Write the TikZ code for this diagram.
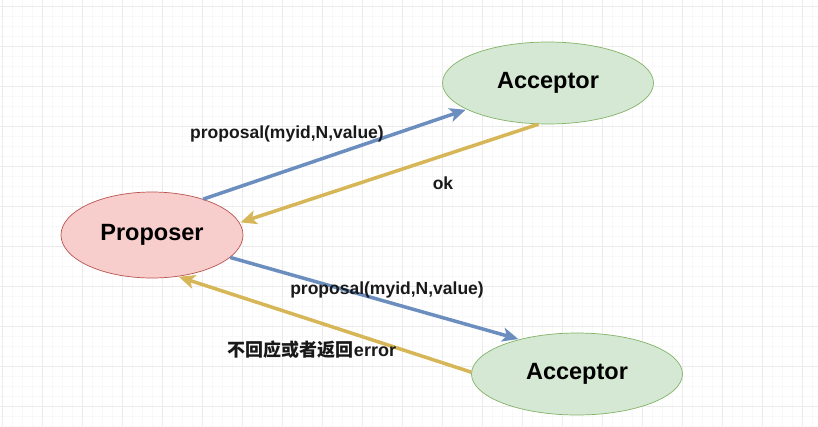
\documentclass[tikz,border=0pt]{standalone}
\usepackage{fontspec}
\setmainfont{Liberation Sans}
\newfontfamily\cjk{Noto Sans CJK SC}
\usetikzlibrary{arrows.meta}
\definecolor{gridminor}{HTML}{F8F8F8}
\definecolor{gridmajor}{HTML}{EBEBEB}
\definecolor{redfill}{HTML}{F8CECC}
\definecolor{redline}{HTML}{B85450}
\definecolor{greenfill}{HTML}{D5E8D4}
\definecolor{greenline}{HTML}{82B366}
\definecolor{bluearrow}{HTML}{6C8EBF}
\definecolor{yellowarrow}{HTML}{D6B656}
\tikzset{
  ell/.style={ellipse, inner sep=0pt, line width=0.7pt, font=\fontsize{23.5}{26}\selectfont\bfseries},
  propnode/.style={ell, draw=redline, fill=redfill, minimum width=182pt, minimum height=86pt},
  accnode/.style={ell, draw=greenline, fill=greenfill, minimum width=211pt, minimum height=82pt},
  conn/.style={line width=3.5pt, -{Stealth[length=16pt,width=14pt,inset=4pt]}, shorten >=1pt},
  bluec/.style={conn, draw=bluearrow, fill=bluearrow},
  yellowc/.style={conn, draw=yellowarrow, fill=yellowarrow},
  lbl/.style={inner sep=0pt, font=\fontsize{17.5}{20}\selectfont\bfseries, text=black!90}
}
\usetikzlibrary{shapes.geometric}
\begin{document}
\begin{tikzpicture}[x=1pt,y=-1pt]
\useasboundingbox (0,0) rectangle (818,426);
\fill[white] (0,0) rectangle (818,426);
\foreach \x in {2,12,...,818} \draw[gridminor, line width=0.6pt] (\x,0) -- (\x,426);
\foreach \y in {6,16,...,426} \draw[gridminor, line width=0.6pt] (0,\y) -- (818,\y);
\foreach \x in {2,42,...,818} \draw[gridmajor, line width=1pt] (\x,0) -- (\x,426);
\foreach \y in {6,46,...,426} \draw[gridmajor, line width=1pt] (0,\y) -- (818,\y);

\node[propnode] (prop) at (152,235) {Proposer};
\node[accnode] (acc1) at (548,83) {Acceptor};
\node[accnode] (acc2) at (577,374) {Acceptor};

\draw[bluec] (prop.35) -- (acc1.198);
\draw[yellowc] (acc1.257) -- (prop.8);
\draw[bluec] (prop.-16) -- (acc2.149);
\draw[yellowc] (acc2.179) -- (prop.302);

\node[lbl] (l1) at (287,134) {proposal(myid,N,value)};
\node[lbl] (l2) at (443,183) {ok};
\node[lbl] (l3) at (387,290) {proposal(myid,N,value)};
\node[lbl, font=\fontsize{18}{20}\selectfont\bfseries] (l4) at (312,350) {{\cjk 不回应或者返回}error};
\end{tikzpicture}
\end{document}
